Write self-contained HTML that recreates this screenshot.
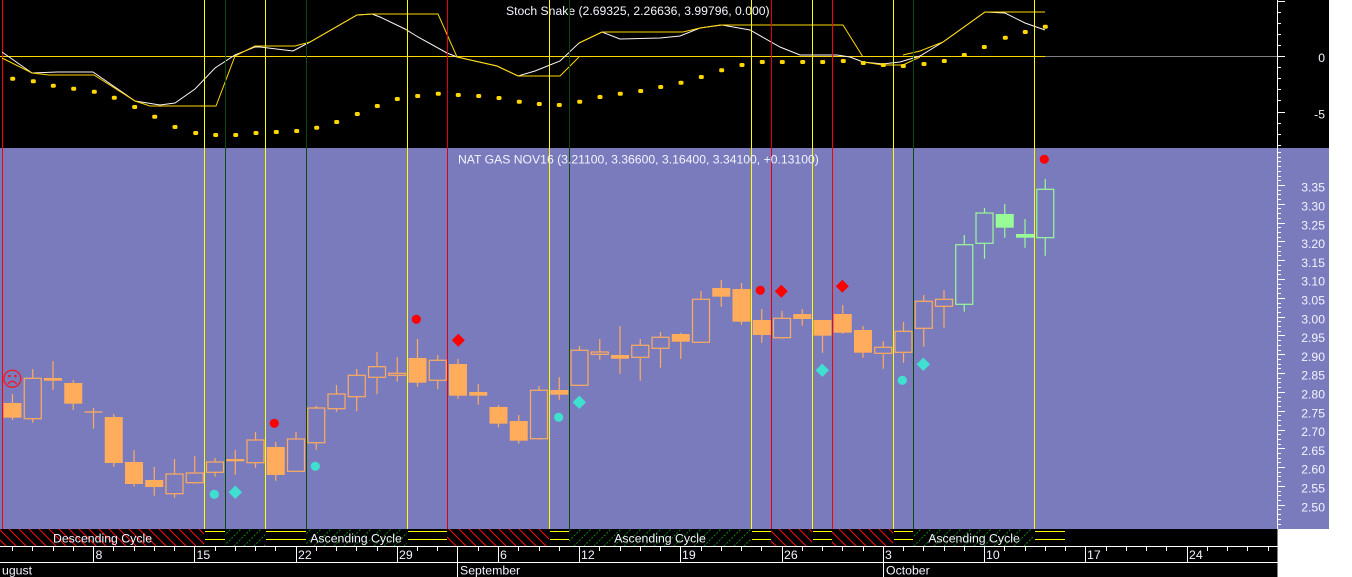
<!DOCTYPE html>
<html><head><meta charset="utf-8"><style>
html,body{margin:0;padding:0;background:#fff;width:1352px;height:577px;overflow:hidden}
svg{display:block;font-family:"Liberation Sans",Arial,sans-serif}
</style></head><body>
<svg width="1352" height="577" viewBox="0 0 1352 577" xmlns="http://www.w3.org/2000/svg">
<defs>
<pattern id="rh" width="10" height="10" patternUnits="userSpaceOnUse"><rect width="10" height="10" fill="#000"/><path d="M-1,-1 L11,11 M-1,9 L1,11 M9,-1 L11,1" stroke="#ff1010" stroke-width="1"/></pattern>
<pattern id="gh" width="10" height="10" patternUnits="userSpaceOnUse"><rect width="10" height="10" fill="#000"/><path d="M-1,11 L11,-1 M-1,1 L1,-1 M9,11 L11,9" stroke="#0a8a0a" stroke-width="1" stroke-dasharray="2,1.5"/></pattern>
</defs>
<!-- backgrounds -->
<rect x="0" y="0" width="1329" height="148" fill="#000"/>
<rect x="0" y="148" width="1329" height="381" fill="#7a7bbd"/>
<rect x="0" y="529" width="1277.5" height="48" fill="#000"/>

<!-- STOCH PANEL -->
<line x1="0" y1="56.5" x2="1045" y2="56.5" stroke="#ffd700" stroke-width="1"/>
<line x1="1045" y1="56.5" x2="1277" y2="56.5" stroke="#808080" stroke-width="1"/>
<g stroke-width="1">
<line x1="2.5" y1="0" x2="2.5" y2="529" stroke="#ff0000"/>
</g>
<polyline fill="none" stroke="#fff4f4" stroke-width="1" points="2,52 32,73 57,72 93,72 135,101 160,105 175,103 195,89 215,68 235,55 255,47 260,47 293,51 310,42 357,15 372,14 380,17 405,29 418,37 447,53 457,57 497,66 518,76 535,71 560,61 579,43 602,32 620,39 660,38 680,36 700,28 722,25 750,30 780,47 800,55 837,55 850,57 863,62 883,64 900,62 920,56 943,42 985,12 1005,13 1025,23 1045,30"/>
<g fill="none" stroke="#ffd700" stroke-width="1">
<polyline points="2,58 32,73 49,75 94,75 135,101 150,106 216,106 235,56 255,46 295,46 310,42 357,15 372,14 438,14 457,57 497,66 518,76 560,76 579,57"/>
<polyline points="579,43 602,32 683,32 700,28 720,25 843,25 863,57"/>
<polyline points="863,62 883,65 903,65 920,57"/>
<polyline points="903,55 920,51 943,42 985,12 1045,12"/>
</g>
<g fill="#ffd700">
<rect x="10.2" y="76.7" width="5" height="4" rx="1.5"/><rect x="30.8" y="79.3" width="5" height="4" rx="1.5"/><rect x="50.8" y="83.7" width="5" height="4" rx="1.5"/><rect x="71.2" y="86.7" width="5" height="4" rx="1.5"/><rect x="91.8" y="89.7" width="5" height="4" rx="1.5"/><rect x="111.8" y="95.7" width="5" height="4" rx="1.5"/><rect x="132.2" y="105" width="5" height="4" rx="1.5"/><rect x="152.2" y="114.7" width="5" height="4" rx="1.5"/><rect x="172.5" y="125" width="5" height="4" rx="1.5"/><rect x="193.2" y="131" width="5" height="4" rx="1.5"/><rect x="213.2" y="133" width="5" height="4" rx="1.5"/><rect x="233.2" y="133" width="5" height="4" rx="1.5"/><rect x="253.5" y="131" width="5" height="4" rx="1.5"/><rect x="273.8" y="130" width="5" height="4" rx="1.5"/><rect x="294.2" y="129" width="5" height="4" rx="1.5"/><rect x="314.2" y="125.7" width="5" height="4" rx="1.5"/><rect x="334.2" y="120" width="5" height="4" rx="1.5"/><rect x="354.8" y="112" width="5" height="4" rx="1.5"/><rect x="374.8" y="104" width="5" height="4" rx="1.5"/><rect x="394.8" y="97" width="5" height="4" rx="1.5"/><rect x="415.2" y="94" width="5" height="4" rx="1.5"/><rect x="435.8" y="91.7" width="5" height="4" rx="1.5"/><rect x="455.8" y="93" width="5" height="4" rx="1.5"/><rect x="476.2" y="94" width="5" height="4" rx="1.5"/><rect x="496.5" y="96" width="5" height="4" rx="1.5"/><rect x="516.8" y="99.7" width="5" height="4" rx="1.5"/><rect x="536.8" y="102" width="5" height="4" rx="1.5"/><rect x="556.8" y="103" width="5" height="4" rx="1.5"/><rect x="577.2" y="99.7" width="5" height="4" rx="1.5"/><rect x="597.5" y="95" width="5" height="4" rx="1.5"/><rect x="617.8" y="91.7" width="5" height="4" rx="1.5"/><rect x="638.2" y="89" width="5" height="4" rx="1.5"/><rect x="658.2" y="85" width="5" height="4" rx="1.5"/><rect x="678.5" y="80.7" width="5" height="4" rx="1.5"/><rect x="698.8" y="75" width="5" height="4" rx="1.5"/><rect x="719.2" y="68.3" width="5" height="4" rx="1.5"/><rect x="739.5" y="63" width="5" height="4" rx="1.5"/><rect x="759.8" y="60" width="5" height="4" rx="1.5"/><rect x="779.8" y="60" width="5" height="4" rx="1.5"/><rect x="800.2" y="60" width="5" height="4" rx="1.5"/><rect x="820.2" y="60" width="5" height="4" rx="1.5"/><rect x="840.8" y="59" width="5" height="4" rx="1.5"/><rect x="860.8" y="61" width="5" height="4" rx="1.5"/><rect x="880.8" y="63" width="5" height="4" rx="1.5"/><rect x="900.8" y="64" width="5" height="4" rx="1.5"/><rect x="921.5" y="62" width="5" height="4" rx="1.5"/><rect x="941.8" y="59" width="5" height="4" rx="1.5"/><rect x="961.8" y="53" width="5" height="4" rx="1.5"/><rect x="981.8" y="45" width="5" height="4" rx="1.5"/><rect x="1002.8" y="35.7" width="5" height="4" rx="1.5"/><rect x="1022.8" y="30" width="5" height="4" rx="1.5"/><rect x="1042.8" y="24.7" width="5" height="4" rx="1.5"/>
</g>
<text x="506" y="15" font-size="12.2" fill="#f4f4ff">Stoch Snake (2.69325, 2.26636, 3.99796, 0.000)</text>

<!-- CANDLES -->
<path fill="none" stroke="#ffac5c" stroke-width="1.2" d="M12.5 394V420 M32.75 369V422.7 M53 361V390 M73.25 380V410 M93.5 408V428.7 M113.75 414V466.7 M134 450V486.7 M154.25 467V495.7 M174.5 459V497.7 M194.75 456V483.7 M215 458V476.7 M235.25 450V474.7 M255.5 432V467.7 M275.75 442V480.7 M296 432V471.3 M316.25 405.7V449.7 M336.5 385V411.7 M356.75 369V411.3 M377 352V394.3 M397.25 357V381.7 M417.5 339V386.7 M437.75 355V389.3 M458 359V398.7 M478.25 384V404.7 M498.5 405V427.3 M518.75 415V443.7 M539 386V439.7 M559.25 377V399.7 M579.5 346V385.3 M599.75 339V359.7 M620 326V373.7 M640.25 339V380.7 M660.5 332V367.7 M680.75 332.7V359 M701 291V342.3 M721.25 280V306.7 M741.5 283V324.7 M761.75 309V342.7 M782 311V338.7 M802.25 309V325.7 M822.5 320V352.7 M842.75 305V333.7 M863 326V357.7 M883.25 341V368.7 M903.5 322V362.7 M923.75 295V346.7 M944 290V327.7"/>
<path fill="none" stroke="#98fb98" stroke-width="1.2" d="M964.25 235V311.7 M984.5 208V258.7 M1004.75 204V237.7 M1025 219V247.7 M1045.25 179V255.7"/>
<g fill="#ffac5c">
<rect x="3.5" y="403" width="18" height="14.7"/><rect x="44" y="378" width="18" height="2.7"/><rect x="64.25" y="383" width="18" height="20.7"/><rect x="84.5" y="411.4" width="18" height="1.3"/><rect x="104.75" y="417" width="18" height="46"/><rect x="125" y="462" width="18" height="22"/><rect x="145.25" y="480" width="18" height="7"/><rect x="226.25" y="459" width="18" height="2.3"/><rect x="266.75" y="447" width="18" height="28"/><rect x="408.5" y="358" width="18" height="24.7"/><rect x="449" y="364" width="18" height="31.7"/><rect x="469.25" y="392" width="18" height="3.7"/><rect x="489.5" y="407" width="18" height="16.7"/><rect x="509.75" y="421" width="18" height="19.7"/><rect x="550.25" y="390" width="18" height="4.7"/><rect x="611" y="355" width="18" height="3.7"/><rect x="671.75" y="334" width="18" height="7.7"/><rect x="712.25" y="288" width="18" height="8.7"/><rect x="732.5" y="289" width="18" height="32.7"/><rect x="752.75" y="320" width="18" height="15"/><rect x="793.25" y="314" width="18" height="5"/><rect x="813.5" y="320" width="18" height="15.7"/><rect x="833.75" y="314" width="18" height="18.7"/><rect x="854" y="330" width="18" height="22.7"/>
</g>
<g fill="#7a7bbd" stroke="#ffac5c" stroke-width="1.2">
<rect x="24.25" y="378.3" width="17" height="40.4"/><rect x="166" y="474" width="17" height="19.7"/><rect x="186.25" y="473" width="17" height="9.7"/><rect x="206.5" y="462" width="17" height="10.3"/><rect x="247" y="440" width="17" height="22.7"/><rect x="287.5" y="439" width="17" height="32.3"/><rect x="307.75" y="408" width="17" height="34.7"/><rect x="328" y="394" width="17" height="14.7"/><rect x="348.25" y="375.3" width="17" height="21.4"/><rect x="368.5" y="366.7" width="17" height="10.6"/><rect x="388.75" y="373.3" width="17" height="2"/><rect x="429.25" y="360.3" width="17" height="20"/><rect x="530.5" y="390.3" width="17" height="48.4"/><rect x="571" y="350.3" width="17" height="35"/><rect x="591.25" y="352" width="17" height="2.3"/><rect x="631.75" y="345.3" width="17" height="12"/><rect x="652" y="337.3" width="17" height="11"/><rect x="692.5" y="299.3" width="17" height="43"/><rect x="773.5" y="318.3" width="17" height="19.4"/><rect x="874.75" y="347.3" width="17" height="6"/><rect x="895" y="331.3" width="17" height="21"/><rect x="915.25" y="301.3" width="17" height="27"/><rect x="935.5" y="299.3" width="17" height="7"/>
</g>
<g fill="#7a7bbd" stroke="#98fb98" stroke-width="1.2">
<rect x="955.75" y="244.7" width="17" height="59.6"/><rect x="976" y="213" width="17" height="30.3"/><rect x="1036.75" y="189.3" width="17" height="48.4"/>
</g>
<g fill="#98fb98">
<rect x="995.75" y="214" width="18" height="13.7"/><rect x="1016" y="234" width="18" height="3.7"/>
</g>

<!-- vertical lines -->
<g stroke-width="1">
<line x1="204.5" y1="0" x2="204.5" y2="529" stroke="#ffff00"/>
<line x1="225.5" y1="0" x2="225.5" y2="529" stroke="#0a4a0a"/>
<line x1="265.5" y1="0" x2="265.5" y2="529" stroke="#ffff00"/>
<line x1="306.5" y1="0" x2="306.5" y2="529" stroke="#0a4a0a"/>
<line x1="407.5" y1="0" x2="407.5" y2="529" stroke="#ffff00"/>
<line x1="447.5" y1="0" x2="447.5" y2="529" stroke="#e00010"/>
<line x1="549.5" y1="0" x2="549.5" y2="529" stroke="#ffff00"/>
<line x1="569.5" y1="0" x2="569.5" y2="529" stroke="#0a4a0a"/>
<line x1="751.5" y1="0" x2="751.5" y2="529" stroke="#ffff00"/>
<line x1="771.5" y1="0" x2="771.5" y2="529" stroke="#e00010"/>
<line x1="812.5" y1="0" x2="812.5" y2="529" stroke="#ffff00"/>
<line x1="832.5" y1="0" x2="832.5" y2="529" stroke="#ff0000"/>
<line x1="893.5" y1="0" x2="893.5" y2="529" stroke="#ffff00"/>
<line x1="913.5" y1="0" x2="913.5" y2="529" stroke="#0a4a0a"/>
<line x1="1034.5" y1="0" x2="1034.5" y2="529" stroke="#ffff00"/>
</g>

<!-- markers -->
<g>
<circle cx="12.3" cy="378.7" r="8.5" fill="none" stroke="#ff1010" stroke-width="1.2"/>
<rect x="8.3" y="375" width="2.2" height="2.2" fill="#ff1010"/>
<rect x="14.3" y="375" width="2.2" height="2.2" fill="#ff1010"/>
<path d="M8 384 Q12.3 378.5 16.6 384" fill="none" stroke="#ff1010" stroke-width="1.2"/>
</g>
<g fill="#ff0000">
<circle cx="274.3" cy="423.3" r="4.6"/><circle cx="416.3" cy="319.3" r="4.6"/><circle cx="760.3" cy="290.3" r="4.6"/><circle cx="1044.3" cy="159.3" r="4.6"/>
<path d="M458.3 333.8 L464.8 340.3 L458.3 346.8 L451.8 340.3Z"/>
<path d="M781.3 284.8 L787.8 291.3 L781.3 297.8 L774.8 291.3Z"/>
<path d="M842.3 279.8 L848.8 286.3 L842.3 292.8 L835.8 286.3Z"/>
</g>
<g fill="#40e0d0">
<circle cx="214.3" cy="494.3" r="4.6"/><circle cx="315.3" cy="466.3" r="4.6"/><circle cx="558.7" cy="417.3" r="4.6"/><circle cx="902.3" cy="380.3" r="4.6"/>
<path d="M235.3 485.6 L242 492.3 L235.3 499 L228.6 492.3Z"/>
<path d="M579.3 395.6 L586 402.3 L579.3 409 L572.6 402.3Z"/>
<path d="M822.3 363.6 L829 370.3 L822.3 377 L815.6 370.3Z"/>
<path d="M923.3 357.6 L930 364.3 L923.3 371 L916.6 364.3Z"/>
</g>
<text x="458" y="163.3" font-size="12.2" fill="#f4f4ff">NAT GAS NOV16 (3.21100, 3.36600, 3.16400, 3.34100, +0.13100)</text>

<!-- right axis -->
<line x1="1277.5" y1="0" x2="1277.5" y2="529" stroke="#fff" stroke-width="1"/>
<path stroke="#fff" stroke-width="1" fill="none" d="M1277 1.5h8 M1277 12.5h4 M1277 23.5h4 M1277 34.5h4 M1277 45.5h4 M1277 56.5h8 M1277 67.5h4 M1277 78.5h4 M1277 89.5h4 M1277 100.5h4 M1277 112.5h8 M1277 123.5h4 M1277 134.5h4 M1277 145.5h4"/>
<path stroke="#fff" stroke-width="1" fill="none" d="M1277 185.5h8 M1277 204.5h8 M1277 223.5h8 M1277 241.5h8 M1277 260.5h8 M1277 279.5h8 M1277 298.5h8 M1277 317.5h8 M1277 335.5h8 M1277 354.5h8 M1277 373.5h8 M1277 392.5h8 M1277 411.5h8 M1277 430.5h8 M1277 448.5h8 M1277 467.5h8 M1277 486.5h8 M1277 505.5h8"/>
<path stroke="#fff" stroke-width="1" fill="none" d="M1277 152.5h4 M1277 157.5h4 M1277 161.5h4 M1277 166.5h4 M1277 171.5h4 M1277 176.5h4 M1277 180.5h4 M1277 190.5h4 M1277 194.5h4 M1277 199.5h4 M1277 208.5h4 M1277 213.5h4 M1277 218.5h4 M1277 227.5h4 M1277 232.5h4 M1277 237.5h4 M1277 246.5h4 M1277 251.5h4 M1277 255.5h4 M1277 265.5h4 M1277 270.5h4 M1277 274.5h4 M1277 284.5h4 M1277 288.5h4 M1277 293.5h4 M1277 303.5h4 M1277 307.5h4 M1277 312.5h4 M1277 321.5h4 M1277 326.5h4 M1277 331.5h4 M1277 340.5h4 M1277 345.5h4 M1277 350.5h4 M1277 359.5h4 M1277 364.5h4 M1277 368.5h4 M1277 378.5h4 M1277 382.5h4 M1277 387.5h4 M1277 397.5h4 M1277 401.5h4 M1277 406.5h4 M1277 415.5h4 M1277 420.5h4 M1277 425.5h4 M1277 434.5h4 M1277 439.5h4 M1277 444.5h4 M1277 453.5h4 M1277 458.5h4 M1277 462.5h4 M1277 472.5h4 M1277 476.5h4 M1277 481.5h4 M1277 491.5h4 M1277 495.5h4 M1277 500.5h4 M1277 509.5h4 M1277 514.5h4 M1277 519.5h4 M1277 524.5h4"/>
<g font-size="12.2" fill="#f4f4ff" text-anchor="end">
<text x="1325" y="62">0</text><text x="1325" y="118.3">-5</text>
<text x="1325" y="191.7">3.35</text><text x="1325" y="210.5">3.30</text><text x="1325" y="229.3">3.25</text><text x="1325" y="248.1">3.20</text><text x="1325" y="266.9">3.15</text><text x="1325" y="285.7">3.10</text><text x="1325" y="304.5">3.05</text><text x="1325" y="323.3">3.00</text><text x="1325" y="342.1">2.95</text><text x="1325" y="360.9">2.90</text><text x="1325" y="379.7">2.85</text><text x="1325" y="398.5">2.80</text><text x="1325" y="417.3">2.75</text><text x="1325" y="436.1">2.70</text><text x="1325" y="454.9">2.65</text><text x="1325" y="473.7">2.60</text><text x="1325" y="492.5">2.55</text><text x="1325" y="511.3">2.50</text>
</g>

<!-- CYCLE BAR -->
<rect x="0" y="529" width="204" height="17" fill="url(#rh)"/>
<rect x="225" y="529" width="40" height="17" fill="url(#gh)"/>
<rect x="306" y="529" width="101" height="17" fill="url(#gh)"/>
<rect x="447" y="529" width="102" height="17" fill="url(#rh)"/>
<rect x="569" y="529" width="182" height="17" fill="url(#gh)"/>
<rect x="771" y="529" width="41" height="17" fill="url(#rh)"/>
<rect x="832" y="529" width="61" height="17" fill="url(#rh)"/>
<rect x="913" y="529" width="121" height="17" fill="url(#gh)"/>
<path stroke="#ffff00" stroke-width="1" fill="none" d="M205 531.5H225 M205 539.5H225 M266 531.5H306 M266 539.5H306 M408 531.5H447 M408 539.5H447 M550 531.5H569 M550 539.5H569 M752 531.5H771 M752 539.5H771 M813 531.5H832 M813 539.5H832 M894 531.5H913 M894 539.5H913 M1035 531.5H1065 M1035 539.5H1065"/>
<g font-size="12.3" fill="#f4f4ff" text-anchor="middle">
<text x="102.5" y="542.7">Descending Cycle</text>
<text x="356" y="542.7">Ascending Cycle</text>
<text x="660" y="542.7">Ascending Cycle</text>
<text x="974" y="542.7">Ascending Cycle</text>
</g>

<!-- DATE ROWS -->
<path stroke="#fff" stroke-width="1" fill="none" d="M0 546.5H1277.5 M0 562.5H1277.5"/>
<path stroke="#fff" stroke-width="1" fill="none" d="M93.5 546V562 M194.5 546V562 M296.5 546V562 M397.5 546V562 M457.5 546V577 M498.5 546V562 M579.5 546V562 M680.5 546V562 M782.5 546V562 M883.5 546V577 M984.5 546V562 M1085.5 546V562 M1187.5 546V562"/>
<path stroke="#fff" stroke-width="1" fill="none" d="M12.5 547v4 M32.5 547v4 M53.5 547v4 M73.5 547v4 M113.5 547v4 M134.5 547v4 M154.5 547v4 M174.5 547v4 M215.5 547v4 M235.5 547v4 M255.5 547v4 M275.5 547v4 M316.5 547v4 M336.5 547v4 M356.5 547v4 M377.5 547v4 M417.5 547v4 M437.5 547v4 M478.5 547v4 M518.5 547v4 M539.5 547v4 M559.5 547v4 M599.5 547v4 M620.5 547v4 M640.5 547v4 M660.5 547v4 M701.5 547v4 M721.5 547v4 M741.5 547v4 M761.5 547v4 M802.5 547v4 M822.5 547v4 M842.5 547v4 M863.5 547v4 M903.5 547v4 M923.5 547v4 M944.5 547v4 M964.5 547v4 M1004.5 547v4 M1025.5 547v4 M1045.5 547v4 M1065.5 547v4 M1106.5 547v4 M1126.5 547v4 M1146.5 547v4 M1166.5 547v4 M1207.5 547v4 M1227.5 547v4 M1247.5 547v4 M1268.5 547v4"/>
<g font-size="12.3" fill="#f4f4ff">
<text x="95.5" y="559">8</text><text x="196.5" y="559">15</text><text x="298" y="559">22</text><text x="399" y="559">29</text><text x="500" y="559">6</text><text x="581" y="559">12</text><text x="682" y="559">19</text><text x="784" y="559">26</text><text x="885" y="559">3</text><text x="986" y="559">10</text><text x="1087" y="559">17</text><text x="1189" y="559">24</text>
<text x="2" y="574.5">ugust</text><text x="460" y="574.5">September</text><text x="886" y="574.5">October</text>
</g>
</svg>
</body></html>
